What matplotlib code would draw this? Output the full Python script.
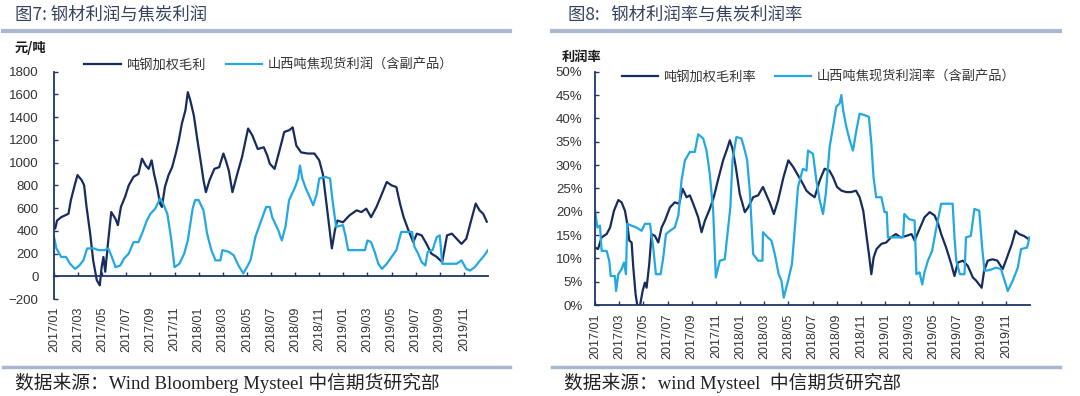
import matplotlib
matplotlib.use("Agg")
import matplotlib.pyplot as plt
from matplotlib.ticker import FuncFormatter

plt.rcParams["font.family"] = ["Liberation Sans", "Noto Sans CJK SC"]

# 数据（月份偏移量，0 = 2017/01）
steel_x = [0.0, 0.1, 0.25, 0.6, 1.2, 1.4, 1.75, 1.95, 2.3, 2.5, 2.7, 3.0, 3.25, 3.55, 3.8, 3.95, 4.1, 4.25,
           4.5, 4.75, 5.1, 5.3, 5.55, 5.9, 6.2, 6.6, 7.0, 7.3, 7.6, 7.85, 8.1, 8.3, 8.55, 8.8, 8.95, 9.2,
           9.5, 9.8, 10.1, 10.35, 10.6, 10.9, 11.1, 11.3, 11.6, 11.9, 12.2, 12.4, 12.6, 12.9, 13.3, 13.7,
           14.05, 14.25, 14.5, 14.8, 15.2, 15.6, 16.1, 16.45, 16.9, 17.4, 17.7, 17.9, 18.3, 18.7, 19.1,
           19.5, 19.8, 20.1, 20.5, 21.05, 21.6, 22.0, 22.3, 22.6, 22.9, 23.05, 23.3, 23.5, 23.97, 24.5,
           25.1, 25.5, 25.9, 26.3, 26.75, 27.2, 27.6, 28.0, 28.4, 28.7, 29.0, 29.4, 29.8, 30.1, 30.5,
           30.9, 31.3, 31.75, 32.2, 32.6, 33.0, 33.4, 33.8, 34.2, 34.6, 34.98, 35.3, 35.6, 35.9]
steel_profit = [430, 420, 490, 520, 550, 670, 815, 890, 845, 800, 610, 375, 140, -35, -80, 80, 170, 40,
                315, 565, 505, 450, 610, 700, 800, 875, 900, 1035, 975, 945, 1020, 900, 785, 640, 610, 785,
                890, 960, 1080, 1195, 1340, 1460, 1620, 1550, 1415, 1195, 990, 845, 740, 845, 945, 960,
                1080, 1020, 930, 740, 900, 1050, 1300, 1240, 1120, 1135, 1060, 990, 945, 1105, 1270,
                1285, 1310, 1150, 1090, 1080, 1080, 1020, 900, 640, 375, 245, 405, 490, 475, 535,
                580, 565, 595, 520, 610, 725, 830, 800, 785, 640, 520, 405, 300, 375, 360,
                285, 200, 170, 125, 360, 375, 330, 285, 330, 490, 640, 580, 550, 480]

coke_x = [0.0, 0.2, 0.6, 1.0, 1.33, 1.75, 2.1, 2.44, 2.75, 3.3, 3.7, 4.2, 4.5, 4.8, 5.1, 5.5, 5.8, 6.2,
          6.6, 7.0, 7.3, 7.7, 8.0, 8.4, 8.8, 9.05, 9.4, 9.7, 10.0, 10.4, 10.8, 11.1, 11.5, 11.7, 12.0,
          12.4, 12.7, 13.05, 13.4, 13.8, 13.97, 14.5, 14.9, 15.3, 15.7, 16.0, 16.3, 16.7, 17.0, 17.6,
          17.9, 18.1, 18.6, 18.9, 19.2, 19.5, 20.0, 20.25, 20.4, 20.6, 20.9, 21.2, 21.5, 21.8, 22.0,
          22.5, 22.9, 23.1, 23.4, 23.97, 24.2, 24.4, 25.8, 26.0, 26.3, 26.6, 26.9, 27.2, 27.6, 28.0,
          28.4, 28.8, 29.7, 29.9, 30.2, 30.5, 30.8, 31.0, 31.4, 31.75, 32.0, 32.2, 33.4, 33.8, 34.2,
          34.5, 34.9, 35.35, 35.6, 35.9, 36.0]
coke_profit = [345, 245, 170, 170, 110, 65, 95, 140, 245, 245, 230, 230, 245, 170, 80, 95, 155, 200,
               300, 300, 375, 490, 550, 595, 685, 640, 550, 345, 80, 110, 200, 315, 595, 670, 670,
               580, 375, 230, 140, 140, 230, 215, 185, 95, 25, 80, 140, 345, 435, 610,
               610, 520, 405, 315, 435, 670, 785, 860, 975, 860, 770, 700, 625, 725, 860,
               875, 860, 670, 435, 450, 345, 230, 230, 315, 300, 215, 110, 65, 110, 170,
               230, 390, 390, 260, 200, 125, 95, 215, 230, 345, 360, 110, 110, 140, 65,
               50, 80, 140, 170, 215, 230]

steel_rate_x = [0.0, 0.25, 0.55, 0.96, 1.25, 1.57, 1.93, 2.2, 2.48, 2.67, 2.84, 3.03, 3.17, 3.36, 3.53,
                3.72, 3.94, 4.13, 4.27, 4.49, 4.68, 4.96, 5.24, 5.51, 5.79, 6.2, 6.6, 6.97, 7.25, 7.58,
                7.85, 8.13, 8.54, 8.82, 9.1, 9.5, 9.83, 10.2, 10.6, 10.94, 11.16, 11.38, 11.65, 11.98,
                12.4, 12.67, 13.09, 13.5, 13.9, 14.2, 14.5, 14.8, 15.15, 15.6, 16.0, 16.4, 16.8, 17.2,
                17.5, 17.8, 18.18, 18.6, 19.0, 19.4, 19.7, 20.03, 20.4, 20.8, 21.2, 21.6, 21.9, 22.2,
                22.45, 22.67, 22.87, 23.06, 23.3, 23.7, 24.1, 24.5, 24.9, 25.3, 25.75, 26.2, 26.45,
                26.86, 27.27, 27.7, 28.1, 28.4, 28.65, 29.06, 29.48, 29.75, 30.03, 30.44, 30.85, 31.27,
                31.55, 32.0, 32.2, 32.5, 32.9, 33.3, 33.74, 34.1, 34.5, 34.8, 35.1, 35.5, 35.9]
steel_rate = [12.3, 12.0, 14.5, 15.2, 16.6, 20.2, 22.5, 22.0, 20.2, 17.4, 13.8, 13.4, 8.0, 2.3, -0.6,
              -0.2, 3.0, 4.8, 3.7, 8.8, 15.2, 14.8, 13.4, 16.6, 18.1, 20.9, 22.0, 21.7, 24.9, 23.1,
              23.5, 21.7, 18.8, 15.6, 18.1, 20.6, 23.1, 27.0, 31.0, 33.5, 35.3, 33.5, 29.6, 23.8,
              19.9, 20.9, 23.1, 23.5, 25.3, 23.5, 21.7, 19.5, 22.4, 27.4, 31.0, 29.6, 27.8, 26.0,
              24.5, 23.8, 23.1, 26.7, 29.2, 28.8, 27.4, 25.3, 24.5, 24.2, 24.2, 24.5, 23.1, 20.2,
              15.2, 10.9, 6.6, 10.2, 12.0, 13.1, 13.4, 14.5, 15.2, 14.5, 14.8, 15.2, 13.8,
              16.3, 18.8, 19.9, 19.2, 17.4, 15.2, 12.3, 8.8, 6.2, 9.1, 9.5, 8.4, 5.9,
              5.2, 3.7, 7.3, 9.5, 9.8, 9.5, 7.7, 10.2, 13.1, 15.9, 15.2, 14.8, 14.1]

coke_rate_x = [0.0, 0.2, 0.41, 0.55, 0.96, 1.18, 1.3, 1.65, 1.74, 1.93, 2.2, 2.4, 2.56, 2.67, 3.03,
               3.44, 3.86, 4.13, 4.55, 4.82, 5.04, 5.43, 5.65, 5.87, 6.2, 6.6, 6.9, 7.16, 7.44, 7.85,
               8.26, 8.54, 8.95, 9.23, 9.5, 9.78, 10.0, 10.33, 10.74, 11.02, 11.2, 11.38, 11.7, 12.12,
               12.4, 12.59, 12.81, 13.09, 13.5, 13.86, 13.9, 14.3, 14.6, 14.88, 15.2, 15.43, 15.62,
               15.98, 16.3, 16.5, 16.8, 17.2, 17.5, 17.63, 18.04, 18.32, 18.6, 18.87, 19.1, 19.42,
               19.7, 19.97, 20.25, 20.39, 20.53, 20.8, 21.08, 21.35, 21.63, 21.9, 22.3, 22.67, 22.87,
               23.05, 23.27, 23.7, 23.96, 24.15, 24.24, 25.5, 25.6, 26.0, 26.45, 26.6, 26.86, 27.08,
               27.27, 27.55, 27.9, 28.2, 28.65, 29.6, 29.75, 29.9, 30.2, 30.58, 30.7, 31.1, 31.4,
               31.8, 32.04, 32.24, 32.65, 33.2, 33.6, 33.9, 34.16, 34.57, 34.99, 35.26, 35.76, 35.95]
coke_rate = [20.2, 16.6, 17.0, 11.6, 11.6, 9.5, 6.2, 6.2, 3.0, 6.6, 7.7, 9.1, 6.6, 17.4, 17.0,
             16.6, 15.9, 17.4, 17.4, 12.3, 6.6, 6.6, 10.2, 15.2, 15.9, 16.6, 19.2, 26.7, 31.0, 32.8,
             32.8, 36.6, 35.7, 33.1, 28.1, 20.2, 5.9, 9.5, 9.8, 16.6, 20.9, 31.0, 36.0, 35.7,
             33.1, 31.0, 24.5, 10.9, 9.5, 9.5, 15.6, 14.5, 13.8, 10.9, 6.6, 5.2, 1.6,
             5.2, 8.8, 15.2, 25.3, 29.2, 28.8, 33.1, 32.4, 26.7, 22.4, 19.5, 23.8, 33.9,
             38.2, 42.5, 43.2, 45.0, 41.8, 38.2, 35.3, 33.1, 37.4, 41.0, 40.7, 40.3, 34.6,
             27.4, 23.1, 23.1, 19.9, 19.9, 14.5, 14.5, 19.5, 18.4, 18.1, 6.6, 7.0, 4.4,
             7.0, 9.5, 11.6, 15.9, 21.7, 21.7, 14.5, 9.5, 6.6, 6.6, 14.5, 14.8, 20.6,
             20.2, 12.3, 7.3, 7.5, 8.0, 7.7, 5.2, 3.0, 5.2, 8.0, 12.0, 12.3, 14.5]

tick_months = list(range(0, 36, 2))
tick_labels = [f"{2017 + m // 12}/{m % 12 + 1:02d}" for m in tick_months]

DARK = "#172c5e"
LIGHT = "#22a8e2"
AXIS = "#1f3566"
TEXT = "#333333"
RULE = "#a9b8cf"
TITLE = "#34425f"
SERIF = ["Liberation Serif", "Noto Sans CJK SC"]

W, H = 1080, 396
fig = plt.figure(figsize=(W / 100, H / 100), dpi=100)


def px_axes(x0, y_top, x1, y_bot):
    return fig.add_axes([x0 / W, 1 - y_bot / H, (x1 - x0) / W, (y_bot - y_top) / H])


def style(ax, label_pad):
    for s in ["top", "right"]:
        ax.spines[s].set_visible(False)
    for s in ["left", "bottom"]:
        ax.spines[s].set_color(AXIS)
        ax.spines[s].set_linewidth(1.3)
    ax.set_xlim(0, 36)
    ax.set_xticks(tick_months)
    ax.set_xticklabels(tick_labels, rotation=90, fontsize=9, color=TEXT)
    ax.tick_params(axis="x", direction="in", length=3, width=1, color=AXIS, pad=label_pad)
    ax.tick_params(axis="y", direction="in", length=3, width=1, color=AXIS, labelsize=9.5,
                   labelcolor=TEXT)


def frame(x0, x1, title, title_x, unit, unit_y, source):
    fig.add_artist(plt.Line2D([x0 / W, x1 / W], [1 - 31 / H] * 2, color=RULE, lw=3))
    fig.add_artist(plt.Line2D([x0 / W, x1 / W], [1 - 366.5 / H] * 2, color=RULE, lw=2.5))
    fig.text(title_x / W, 1 - 14 / H, title, fontsize=12.5, color=TITLE, va="center",
             family=["Noto Sans CJK SC"])
    fig.text((x0 + 12) / W if unit == "元/吨" else (x0 + 10) / W, 1 - unit_y / H, unit,
             fontsize=9.5, fontweight="bold", color="#1a1a1a", va="center",
             family=["Noto Sans CJK SC"])
    fig.text((x0 + 12) / W, 1 - 383 / H, source, fontsize=13.5, color="#222222", va="center",
             family=SERIF)


# 图7
ax1 = px_axes(54, 71.7, 488, 299)
ax1.plot(steel_x, steel_profit, color=DARK, lw=1.6, label="吨钢加权毛利")
ax1.plot(coke_x, coke_profit, color=LIGHT, lw=1.6, label="山西吨焦现货利润（含副产品）")
ax1.set_ylim(-200, 1800)
ax1.set_yticks(range(-200, 1801, 200))
ax1.spines["bottom"].set_position(("data", 0))
style(ax1, 22)
ax1.tick_params(axis="y", pad=11)
ax1.legend(loc="upper left", bbox_to_anchor=(84 / W, 1 - 59 / H), bbox_transform=fig.transFigure,
           ncol=2, frameon=False, fontsize=9.5, handlelength=2.8, handletextpad=0.4,
           columnspacing=1.5, borderpad=0, borderaxespad=0, labelcolor=TEXT)
frame(3, 510, "图7: 钢材利润与焦炭利润", 15, "元/吨", 48,
      "数据来源：Wind Bloomberg Mysteel 中信期货研究部")

# 图8
ax2 = px_axes(595, 71.7, 1030, 305)
ax2.plot(steel_rate_x, steel_rate, color=DARK, lw=1.6, label="吨钢加权毛利率")
ax2.plot(coke_rate_x, coke_rate, color=LIGHT, lw=1.6, label="山西吨焦现货利润率（含副产品）")
ax2.set_ylim(0, 50)
ax2.set_yticks(range(0, 51, 5))
ax2.yaxis.set_major_formatter(FuncFormatter(lambda v, p: f"{v:.0f}%"))
style(ax2, 6)
ax2.tick_params(axis="y", pad=9)
ax2.legend(loc="upper left", bbox_to_anchor=(622 / W, 1 - 71 / H), bbox_transform=fig.transFigure,
           ncol=2, frameon=False, fontsize=9.5, handlelength=2.7, handletextpad=0.4,
           columnspacing=1.5, borderpad=0, borderaxespad=0, labelcolor=TEXT)
frame(552, 1060, "图8:   钢材利润率与焦炭利润率", 568, "利润率", 57,
      "数据来源：wind Mysteel  中信期货研究部")

fig.savefig("out.png", dpi=100)
